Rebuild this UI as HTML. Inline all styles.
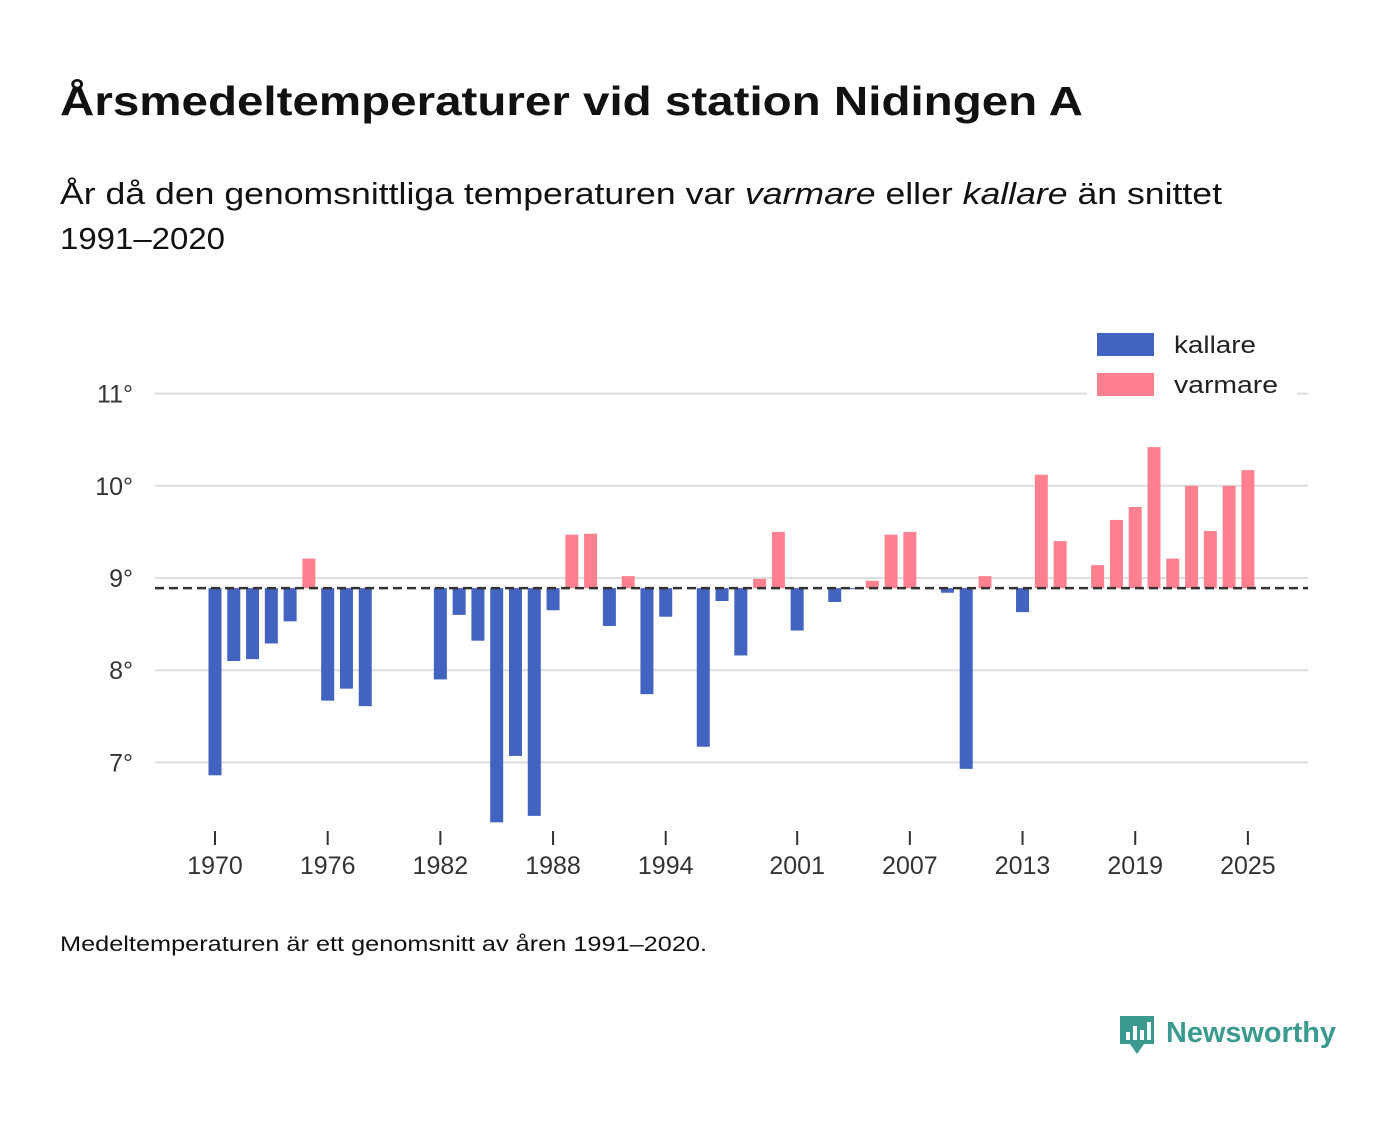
<!DOCTYPE html>
<html><head><meta charset="utf-8"><style>
body{margin:0;background:#fff;width:1400px;height:1116px;overflow:hidden;font-family:"Liberation Sans",sans-serif;color:#111}
</style></head><body>
<svg width="1400" height="1116" xmlns="http://www.w3.org/2000/svg">
<text x="60" y="115" font-size="41" font-weight="bold" fill="#111" textLength="1023" lengthAdjust="spacingAndGlyphs">Årsmedeltemperaturer vid station Nidingen A</text>
<text x="60" y="204" font-size="31" fill="#111" textLength="1162" lengthAdjust="spacingAndGlyphs">År då den genomsnittliga temperaturen var <tspan font-style="italic">varmare</tspan> eller <tspan font-style="italic">kallare</tspan> än snittet</text>
<text x="60" y="249" font-size="31" fill="#111" textLength="165" lengthAdjust="spacingAndGlyphs">1991–2020</text>
<g id="grid"></g><g id="bars"></g><g id="xaxis"></g>
<g>
<rect x="1087" y="322" width="210" height="80" fill="#fff"/>
<rect x="1097" y="333" width="57" height="23" fill="#4263c0"/>
<text x="1174" y="353" font-size="24" fill="#222" textLength="82" lengthAdjust="spacingAndGlyphs">kallare</text>
<rect x="1097" y="373" width="57" height="23" fill="#ff818f"/>
<text x="1174" y="393" font-size="24" fill="#222" textLength="104" lengthAdjust="spacingAndGlyphs">varmare</text>
</g>
<text x="60" y="951" font-size="21" fill="#111" textLength="647" lengthAdjust="spacingAndGlyphs">Medeltemperaturen är ett genomsnitt av åren 1991–2020.</text>
<g>
<path d="M1120 1016 h34 v28 h-10 l-7 10 l-7-10 h-10z" fill="#3a9a8f"/>
<rect x="1126" y="1032" width="4" height="8" fill="#fff"/><rect x="1133" y="1026" width="4" height="14" fill="#fff"/><rect x="1140" y="1030" width="4" height="10" fill="#fff"/><rect x="1147" y="1022" width="4" height="18" fill="#fff"/>
<text x="1166" y="1042" font-size="29" font-weight="bold" fill="#3a9a8f" textLength="170" lengthAdjust="spacingAndGlyphs">Newsworthy</text>
</g>
</svg>
<script>
const years=[];for(let y=1970;y<=2025;y++)years.push(y);
const values=[6.86,8.10,8.12,8.29,8.53,9.21,7.67,7.80,7.61,null,null,null,7.90,8.60,8.32,6.35,7.07,6.42,8.65,9.47,9.48,8.48,9.02,7.74,8.58,null,7.17,8.75,8.16,8.99,9.50,8.43,null,8.74,8.88,8.97,9.47,9.50,null,8.84,6.93,9.02,null,8.63,10.12,9.40,null,9.14,9.63,9.77,10.42,9.21,10.00,9.51,10.00,10.17];
const baseline=8.89;
const yTicks=[7,8,9,10,11];
const xTicks=[1970,1976,1982,1988,1994,2001,2007,2013,2019,2025];
const NS="http://www.w3.org/2000/svg";
const yS=v=>578-(v-9)*92.2;
const xS=y=>215+(y-1970)*18.78;
function mk(t,a,p){const e=document.createElementNS(NS,t);for(const k in a)e.setAttribute(k,a[k]);p.appendChild(e);return e;}
const g=document.getElementById('grid'),b=document.getElementById('bars'),xa=document.getElementById('xaxis');
yTicks.forEach(v=>{const l=mk('line',{x1:155,x2:1308,y1:yS(v),y2:yS(v),stroke:'#ddd','stroke-width':2},g);


const t=mk('text',{x:133,y:yS(v)+9,'text-anchor':'end','font-size':25,fill:'#333'},g);t.textContent=v+'°';

});
values.forEach((v,i)=>{if(v==null)return;const x=xS(years[i]);const y0=yS(baseline),y1=yS(v);
const r=mk('rect',{x:x-6.5,y:Math.min(y0,y1),width:13,height:Math.max(1,Math.abs(y1-y0)),fill:v>=baseline?'#ff818f':'#4263c0'},b);

});
const bl=mk('line',{x1:155,x2:1308,y1:yS(baseline),y2:yS(baseline),stroke:'#333','stroke-width':2.5,'stroke-dasharray':'9,5'},b);


xTicks.forEach(y=>{const x=xS(y);const l=mk('line',{x1:x,x2:x,y1:831,y2:845,stroke:'#333','stroke-width':2},xa);


const t=mk('text',{x:x,y:874,'text-anchor':'middle','font-size':25,fill:'#333'},xa);t.textContent=y;

});
</script>
</body></html>
